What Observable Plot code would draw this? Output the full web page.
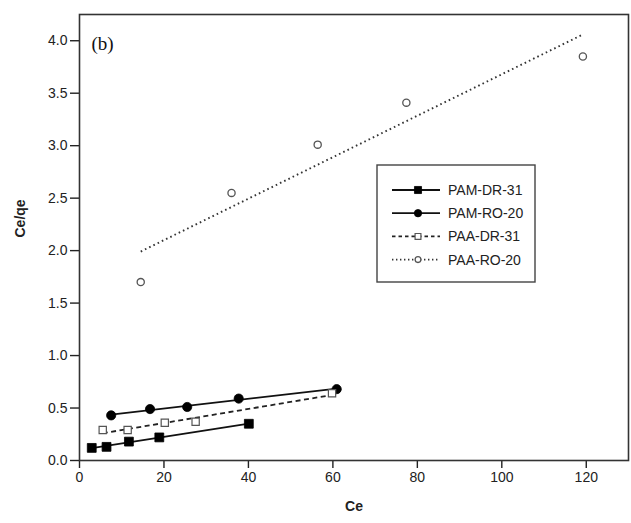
<!DOCTYPE html>
<html>
<head>
<meta charset="utf-8">
<script src="https://cdn.jsdelivr.net/npm/d3@7"></script>
<script src="https://cdn.jsdelivr.net/npm/@observablehq/plot@0.6"></script>
<style>
  html, body { margin: 0; padding: 0; background: #fff; }
  #chart { position: relative; width: 631px; height: 523px; }
</style>
</head>
<body>
<div id="chart"></div>
<script>
// ---- data ----
const seriesNames = ["PAM-DR-31", "PAM-RO-20", "PAA-DR-31", "PAA-RO-20"];
const cePamDR = [2.9, 6.4, 11.7, 18.9, 40.1];
const ratioPamDR = [0.12, 0.13, 0.18, 0.22, 0.35];
const cePamRO = [7.5, 16.7, 25.5, 37.7, 60.9];
const ratioPamRO = [0.43, 0.49, 0.51, 0.59, 0.68];
const cePaaDR = [5.5, 11.4, 20.2, 27.5, 59.8];
const ratioPaaDR = [0.29, 0.29, 0.36, 0.37, 0.64];
const cePaaRO = [14.5, 36.0, 56.4, 77.4, 119.2];
const ratioPaaRO = [1.70, 2.55, 3.01, 3.41, 3.85];
const xTicks = [0, 20, 40, 60, 80, 100, 120];
const yTicks = [0, 0.5, 1.0, 1.5, 2.0, 2.5, 3.0, 3.5, 4.0];

// ---- styles per series ----
const styles = {
  "PAM-DR-31": {symbol: "square", r: 5, fill: "#000", stroke: "#000", sw: 0.8, dash: null, lineStroke: "#111", lineW: 1.8},
  "PAM-RO-20": {symbol: "circle", r: 4.6, fill: "#000", stroke: "#000", sw: 0.8, dash: null, lineStroke: "#111", lineW: 1.8},
  "PAA-DR-31": {symbol: "square", r: 4.1, fill: "#fff", stroke: "#555", sw: 1.2, dash: "5,3.5", lineStroke: "#222", lineW: 1.8},
  "PAA-RO-20": {symbol: "circle", r: 3.6, fill: "#fff", stroke: "#555", sw: 1.3, dash: "1.6,3.1", lineStroke: "#333", lineW: 1.9}
};

const cols = [[cePamDR, ratioPamDR], [cePamRO, ratioPamRO], [cePaaDR, ratioPaaDR], [cePaaRO, ratioPaaRO]];
const rows = [];
seriesNames.forEach((s, i) => {
  cols[i][0].forEach((c, j) => rows.push({series: s, ce: c, ratio: cols[i][1][j]}));
});

const marks = [];
seriesNames.forEach(s => {
  const st = styles[s];
  const d = rows.filter(r => r.series === s);
  marks.push(Plot.linearRegressionY(d, {
    x: "ce", y: "ratio", ci: 0, stroke: st.lineStroke, strokeWidth: st.lineW,
    strokeDasharray: st.dash ?? undefined, strokeLinecap: "butt"
  }));
});
seriesNames.forEach(s => {
  const st = styles[s];
  const d = rows.filter(r => r.series === s);
  marks.push(Plot.dot(d, {x: "ce", y: "ratio", symbol: st.symbol, r: st.r, fill: st.fill, stroke: st.stroke, strokeWidth: st.sw}));
});

const chart = Plot.plot({
  width: 631,
  height: 523,
  marginLeft: 79,
  marginRight: 3,
  marginTop: 14,
  marginBottom: 63,
  style: {fontFamily: "'Liberation Sans', Arial, sans-serif", fontSize: "14px", color: "#222", background: "#fff"},
  x: {domain: [0, 130]},
  y: {domain: [0, 4.25]},
  marks: [
    Plot.axisX({ticks: xTicks, tickSize: 8, tickPadding: 4, strokeWidth: 1.4, label: null}),
    Plot.axisY({ticks: yTicks, tickSize: 9, tickPadding: 3, strokeWidth: 1.4, tickFormat: d3.format(".1f"), label: null}),
    ...marks,
    Plot.frame({stroke: "#333", strokeWidth: 1.6}),
    Plot.text(["(b)"], {frameAnchor: "top-left", dx: 12, dy: 22, text: d => d, fontFamily: "'Liberation Serif', 'Times New Roman', serif", fontSize: 19, fill: "#111", textAnchor: "start"}),
    Plot.text(["Ce"], {frameAnchor: "bottom", dy: 50, text: d => d, fontWeight: "bold", fontSize: 14, fill: "#222"}),
    Plot.text(["Ce/qe"], {frameAnchor: "left", dx: -59, rotate: -90, text: d => d, fontWeight: "bold", fontSize: 14, fill: "#222"})
  ]
});
document.getElementById("chart").appendChild(chart);

// ---- legend box drawn inside the svg ----
const svg = d3.select(chart);
const lg = svg.append("g").attr("transform", "translate(377,165)");
lg.append("rect").attr("x", 0).attr("y", 0).attr("width", 158).attr("height", 117)
  .attr("fill", "#fff").attr("stroke", "#444").attr("stroke-width", 1.4);
seriesNames.forEach((s, i) => {
  const st = styles[s];
  const y = 25 + i * 23.2;
  lg.append("line").attr("x1", 15).attr("x2", 63).attr("y1", y).attr("y2", y)
    .attr("stroke", st.lineStroke).attr("stroke-width", st.lineW)
    .attr("stroke-dasharray", st.dash ? (st.symbol === "circle" ? "1.4,2.6" : "3.5,3") : null);
  const sym = d3.symbol(st.symbol === "square" ? d3.symbolSquare : d3.symbolCircle, Math.PI * (st.r * 0.8) ** 2);
  lg.append("path").attr("d", sym()).attr("transform", `translate(41,${y})`)
    .attr("fill", st.fill).attr("stroke", st.stroke).attr("stroke-width", st.sw);
  lg.append("text").attr("x", 71).attr("y", y).attr("dy", "0.36em")
    .attr("text-anchor", "start")
    .attr("font-family", "'Liberation Sans', Arial, sans-serif").attr("font-size", 14).attr("fill", "#222")
    .text(s);
});
</script>
</body>
</html>
